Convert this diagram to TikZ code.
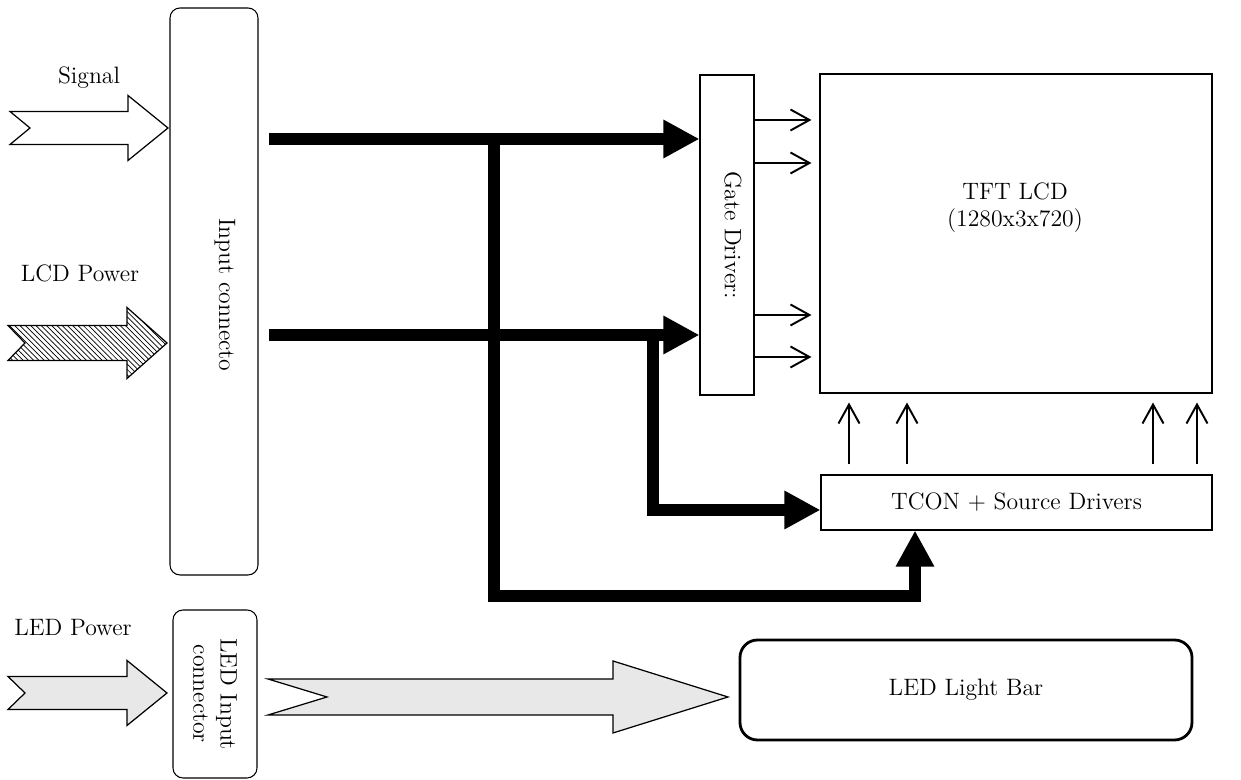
\documentclass[tikz,border=0pt]{standalone}
\usepackage{tikz}
\usetikzlibrary{arrows.meta,patterns,positioning}

% block arrow with notched tail: style, tail x, notch x, head x, tip x, centre y, body half, head half
\newcommand{\fatarrow}[8]{%
  \draw[#1] (#2,#6+#7) -- (#4,#6+#7) -- (#4,#6+#8) -- (#5,#6) -- (#4,#6-#8) -- (#4,#6-#7) -- (#2,#6-#7) -- (#3,#6) -- cycle;}

\begin{document}
\begin{tikzpicture}[
    every node/.style={font=\fontsize{13.5}{15.5}\selectfont},
    plainbox/.style={draw, line width=0.6pt, inner sep=0pt},
    connbox/.style={plainbox, rounded corners=0.2cm},
    barbox/.style={draw, line width=1.6pt, rounded corners=0.35cm, inner sep=0pt},
    busarrow/.style={line width=6.8pt, line join=miter, -{Triangle[length=0.72cm,width=0.72cm]}},
    thinarrow/.style={line width=1.1pt, -{Straight Barb[length=0.38cm,width=0.42cm]}},
    blockarrow/.style={draw, line width=0.7pt, line join=miter}
]
\useasboundingbox (0,0) rectangle (24.82,15.60);

% Boxes
\node[connbox, minimum width=1.76cm, minimum height=11.34cm] (inconn) at (4.28,9.77) {};
\node[rotate=-90] (inconnlabel) at (4.50,9.70) {Input connecto};
\node[connbox, minimum width=1.68cm, minimum height=3.36cm] (ledconn) at (4.30,1.72) {};
\node[rotate=-90, align=center] (ledconnlabel) at (ledconn.center) {LED Input\\connector};
\node[plainbox, minimum width=1.08cm, minimum height=6.40cm] (gate) at (14.54,10.90) {};
\node[rotate=-90] (gatelabel) at (14.66,10.90) {Gate Driver:};
\node[plainbox, minimum width=7.84cm, minimum height=6.38cm] (tft) at (20.32,10.93) {};
\node[align=center] (tftlabel) at (20.30,11.44) {TFT LCD\\(1280x3x720)};
\node[plainbox, minimum width=7.82cm, minimum height=1.10cm] (tcon) at (20.33,5.55) {TCON + Source Drivers};
\node[barbox, minimum width=9.04cm, minimum height=2.00cm] (ledbar) at (19.32,1.80) {LED Light Bar};

% Input labels
\node (signallabel) at (1.78,14.04) {Signal};
\node (lcdlabel) at (1.60,10.14) {LCD Power};
\node (ledlabel) at (1.46,3.04) {LED Power};

% Block arrows
\fatarrow{blockarrow, fill=white}{0.20}{0.60}{2.56}{3.36}{13.04}{0.33}{0.65}
\fatarrow{blockarrow, pattern=north west lines}{0.16}{0.50}{2.54}{3.34}{8.74}{0.35}{0.71}
\fatarrow{blockarrow, fill=black!9}{0.16}{0.50}{2.54}{3.34}{1.74}{0.33}{0.65}
\fatarrow{blockarrow, fill=black!9}{5.36}{6.54}{12.26}{14.56}{1.66}{0.36}{0.72}

% Bus lines
\coordinate (sigout) at (5.38,12.82);
\coordinate (pwrout) at (5.38,8.90);
\coordinate (trunktop) at (9.88,12.82);
\coordinate (trunkbot) at (9.88,3.68);
\coordinate (trunkend) at (18.30,3.68);
\coordinate (branchtop) at (13.06,8.90);
\coordinate (branchbot) at (13.06,5.40);

\draw[busarrow] (sigout) -- (sigout -| gate.west);
\draw[busarrow] (pwrout) -- (pwrout -| gate.west);
\draw[busarrow] (trunktop) -- (trunkbot) -- (trunkend) -- (trunkend |- tcon.south);
\draw[busarrow] (branchtop) -- (branchbot) -- (branchbot -| tcon.west);

% Driver outputs
\foreach \y in {13.20,12.34,9.30,8.46}
  \draw[thinarrow, shorten >=0.16cm] (gate.east |- 0,\y) -- (tft.west |- 0,\y);
\foreach \x in {16.98,18.14,23.06,23.94}
  \draw[thinarrow, shorten <=0.2cm, shorten >=0.18cm] (tcon.north -| \x,0) -- (tft.south -| \x,0);

\end{tikzpicture}
\end{document}
